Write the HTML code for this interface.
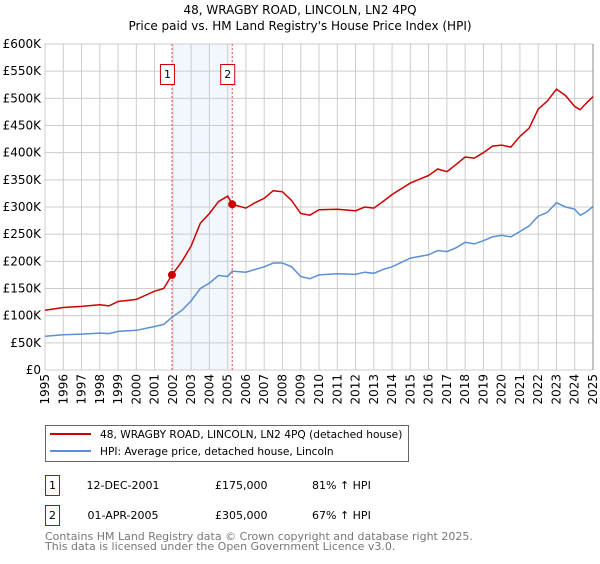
<!DOCTYPE html>
<html><head><meta charset="utf-8"><style>
body{margin:0;background:#fff;font-family:"DejaVu Sans","Liberation Sans",sans-serif;}
svg text{font-family:"DejaVu Sans","Liberation Sans",sans-serif;}
</style></head><body>
<svg id="c" width="600" height="560" xmlns="http://www.w3.org/2000/svg">
<text x="300" y="14" text-anchor="middle" font-size="12">48, WRAGBY ROAD, LINCOLN, LN2 4PQ</text>
<text x="300" y="30" text-anchor="middle" font-size="12">Price paid vs. HM Land Registry's House Price Index (HPI)</text>
<g id="plot"></g>
<g>
<rect x="45.5" y="425.5" width="363" height="36" fill="#fff" stroke="#666"/>
<line x1="50" y1="434" x2="91" y2="434" stroke="#cc0000" stroke-width="2"/>
<text x="100" y="438" font-size="10.6">48, WRAGBY ROAD, LINCOLN, LN2 4PQ (detached house)</text>
<line x1="50" y1="451" x2="91" y2="451" stroke="#5b8fd6" stroke-width="2"/>
<text x="100" y="455" font-size="10.6">HPI: Average price, detached house, Lincoln</text>
</g>
<g font-size="11">
<rect x="45.5" y="475.5" width="14" height="20" fill="#fff" stroke="#cc0000"/>
<text x="52.5" y="489" text-anchor="middle">1</text>
<text x="123" y="489" text-anchor="middle">12-DEC-2001</text>
<text x="215" y="489">£175,000</text>
<text x="312" y="489">81% ↑ HPI</text>
<rect x="45.5" y="505.5" width="14" height="20" fill="#fff" stroke="#cc0000"/>
<text x="52.5" y="519" text-anchor="middle">2</text>
<text x="123" y="519" text-anchor="middle">01-APR-2005</text>
<text x="215" y="519">£305,000</text>
<text x="312" y="519">67% ↑ HPI</text>
</g>
<text x="45" y="540" font-size="11" fill="#777">Contains HM Land Registry data © Crown copyright and database right 2025.</text>
<text x="45" y="550" font-size="11" fill="#777">This data is licensed under the Open Government Licence v3.0.</text>
</svg>
<script>
const years=[1995,1996,1997,1998,1998.5,1999,2000,2001,2001.5,2001.95,2002.5,2003,2003.5,2004,2004.5,2005,2005.25,2006,2006.5,2007,2007.5,2008,2008.5,2009,2009.5,2010,2011,2012,2012.5,2013,2013.5,2014,2015,2016,2016.5,2017,2017.5,2018,2018.5,2019,2019.5,2020,2020.5,2021,2021.5,2022,2022.5,2023,2023.5,2024,2024.3,2024.6,2025];
const hpi=[62,65,66,68,67,71,73,80,84,97,110,127,150,160,174,172,182,180,185,190,197,197,190,172,168,175,177,176,180,178,185,190,206,212,220,218,225,235,232,238,245,248,245,255,265,283,290,308,300,296,285,290,301];
const price=[110,115,117,120,118,126,130,145,150,175,200,228,270,288,310,320,305,298,308,316,330,328,312,288,285,295,296,293,300,298,310,323,344,358,370,365,378,392,390,400,412,414,410,430,445,480,495,517,505,485,479,490,503];
const yTicks=[0,50,100,150,200,250,300,350,400,450,500,550,600];
const xTicks=[1995,1996,1997,1998,1999,2000,2001,2002,2003,2004,2005,2006,2007,2008,2009,2010,2011,2012,2013,2014,2015,2016,2017,2018,2019,2020,2021,2022,2023,2024,2025];
const sales=[{t:2001.95,v:175,label:"1"},{t:2005.25,v:305,label:"2"}];
const X0=45,X1=593,Y0=370,Y1=44;
const xs=t=>X0+(t-1995)/30*(X1-X0);
const ys=v=>Y0-v/600*(Y0-Y1);
const ns="http://www.w3.org/2000/svg";
const g=document.getElementById('plot');
function mk(tag,a){const e=document.createElementNS(ns,tag);for(const k in a)e.setAttribute(k,a[k]);g.appendChild(e);return e;}
let band=mk('rect',{x:xs(sales[0].t),y:Y1,width:xs(sales[1].t)-xs(sales[0].t),height:Y0-Y1,fill:'#f2f6fd'});


yTicks.forEach(v=>{
 let l=mk('line',{x1:X0,x2:X1,y1:ys(v),y2:ys(v),stroke:'#ccc'});
 
 
 let t=mk('text',{x:X0-4,y:ys(v)+4,'text-anchor':'end','font-size':12});
 
 
 t.textContent=v===0?'£0':'£'+v+'K';
});
xTicks.forEach(yr=>{
 let l=mk('line',{x1:xs(yr),x2:xs(yr),y1:Y1,y2:Y0,stroke:'#ccc'});
 
 
 let t=mk('text',{x:0,y:0,'text-anchor':'end','font-size':12,transform:`translate(${xs(yr)+4},374) rotate(-90)`});
 
 
 t.textContent=yr;
});
let ax=mk('line',{x1:X1,x2:X1,y1:Y1,y2:Y0,stroke:'#888'});


sales.forEach(s=>{
 let l=mk('line',{x1:xs(s.t),x2:xs(s.t),y1:Y1,y2:Y0,stroke:'#e05050','stroke-dasharray':'2,2'});
 
 
 let r=mk('rect',{x:xs(s.t)-11.5,y:64.5,width:14,height:20,fill:'#fff',stroke:'#cc0000'});
 
 
 let t=mk('text',{x:xs(s.t)-4.5,y:78,'text-anchor':'middle','font-size':11});
 
 
 t.textContent=s.label;
});
function line(arr,color,name){
 let d=arr.map((v,i)=>(i?'L':'M')+xs(years[i]).toFixed(1)+','+ys(v).toFixed(1)).join('');
 let p=mk('path',{d:d,fill:'none',stroke:color,'stroke-width':1.5});
 
 
}
line(hpi,'#5b8fd6','hpi-line');
line(price,'#cc0000','price-paid-line');
sales.forEach(s=>{
 let c=mk('circle',{cx:xs(s.t),cy:ys(s.v),r:4,fill:'#cc0000'});
 
 
});
</script>
</body></html>
